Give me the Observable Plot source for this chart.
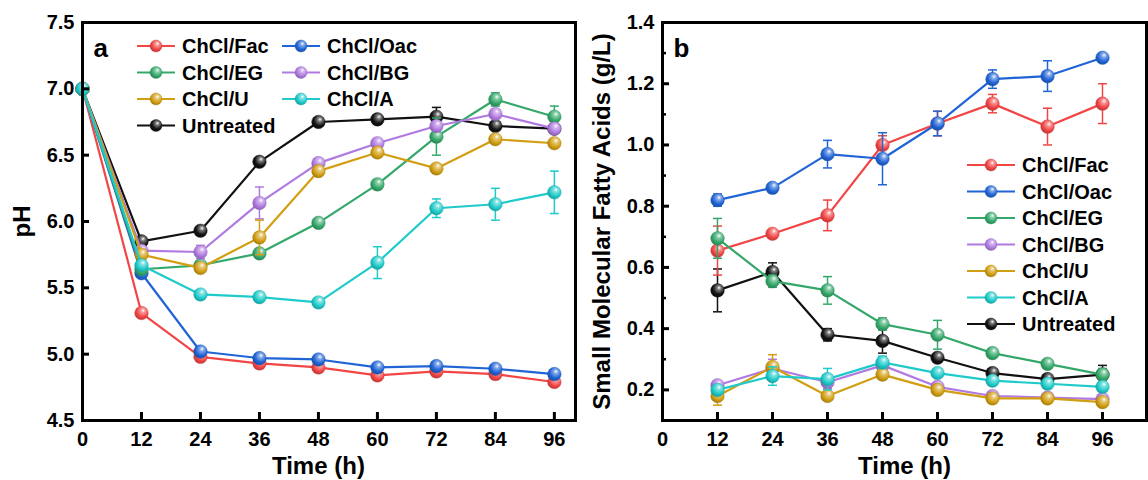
<!DOCTYPE html>
<html><head><meta charset="utf-8">
<script src="https://cdn.jsdelivr.net/npm/d3@7"></script>
<script src="https://cdn.jsdelivr.net/npm/@observablehq/plot@0.6"></script>
<style>
body{margin:0;background:#fff;font-family:"Liberation Sans",Arial,sans-serif}
#wrap{position:relative;width:1148px;height:480px;overflow:hidden}
#a,#b{position:absolute;top:0}
#a{left:0}#b{left:580px}
</style></head><body>
<div id="wrap"><div id="a"></div><div id="b"></div></div>
<script>
// ---------- data ----------
const seriesNames = ["ChCl/Fac","ChCl/Oac","ChCl/EG","ChCl/BG","ChCl/U","ChCl/A","Untreated"];
const seriesColors = ["#f24545","#2064d6","#34a86a","#b07ae0","#d29e12","#1fcaca","#111111"];
const timesA = [0,12,24,36,48,60,72,84,96];
const timesB = [12,24,36,48,60,72,84,96];
const tickLabelsX = [0,12,24,36,48,60,72,84,96];
const ticksPH = [4.5,5.0,5.5,6.0,6.5,7.0,7.5];
const ticksSMFA = [0.2,0.4,0.6,0.8,1.0,1.2,1.4];
const minorSMFA = [0.3,0.5,0.7,0.9,1.1,1.3];

// panel a: pH
const pH_Fac = [7.00,5.31,4.98,4.93,4.90,4.84,4.87,4.85,4.79];
const pH_Oac = [7.00,5.61,5.02,4.97,4.96,4.90,4.91,4.89,4.85];
const pH_EG  = [7.00,5.64,5.67,5.76,5.99,6.28,6.64,6.92,6.79];
const pH_BG  = [7.00,5.78,5.77,6.14,6.44,6.59,6.72,6.81,6.70];
const pH_U   = [7.00,5.75,5.65,5.88,6.38,6.52,6.40,6.62,6.59];
const pH_A   = [7.00,5.67,5.45,5.43,5.39,5.69,6.10,6.13,6.22];
const pH_Un  = [7.00,5.85,5.93,6.45,6.75,6.77,6.79,6.72,6.70];
const pHerr_Fac = [0,0.03,0.02,0.02,0.02,0.02,0.02,0.02,0.02];
const pHerr_Oac = [0,0.02,0.02,0.02,0.02,0.02,0.02,0.02,0.02];
const pHerr_EG  = [0,0.02,0.02,0.02,0.02,0.02,0.14,0.05,0.08];
const pHerr_BG  = [0,0.02,0.05,0.12,0.02,0.02,0.02,0.03,0.02];
const pHerr_U   = [0,0.02,0.03,0.13,0.02,0.02,0.02,0.02,0.02];
const pHerr_A   = [0,0.02,0.02,0.02,0.03,0.12,0.07,0.12,0.16];
const pHerr_Un  = [0,0.02,0.02,0.02,0.02,0.02,0.07,0.03,0.02];

// panel b: small molecular fatty acids (g/L)
const fa_Fac = [0.655,0.71,0.77,1.00,1.07,1.135,1.06,1.135];
const fa_Oac = [0.82,0.86,0.97,0.955,1.07,1.215,1.225,1.285];
const fa_EG  = [0.695,0.555,0.525,0.415,0.38,0.32,0.285,0.25];
const fa_BG  = [0.215,0.27,0.225,0.28,0.21,0.18,0.175,0.17];
const fa_U   = [0.18,0.275,0.18,0.25,0.20,0.172,0.172,0.16];
const fa_A   = [0.20,0.245,0.235,0.29,0.255,0.23,0.22,0.21];
const fa_Un  = [0.525,0.585,0.38,0.36,0.305,0.255,0.235,0.25];
const faerr_Fac = [0.08,0.01,0.05,0.03,0.04,0.03,0.06,0.065];
const faerr_Oac = [0.02,0.01,0.045,0.085,0.04,0.03,0.05,0.01];
const faerr_EG  = [0.065,0.02,0.045,0.02,0.047,0.01,0.01,0.02];
const faerr_BG  = [0.01,0.03,0.02,0.02,0.01,0.01,0.01,0.01];
const faerr_U   = [0.03,0.04,0.01,0.01,0.01,0.01,0.01,0.01];
const faerr_A   = [0.01,0.03,0.035,0.02,0.01,0.01,0.01,0.01];
const faerr_Un  = [0.07,0.03,0.02,0.04,0.01,0.01,0.01,0.03];

const pHVals = [pH_Fac,pH_Oac,pH_EG,pH_BG,pH_U,pH_A,pH_Un];
const pHErrs = [pHerr_Fac,pHerr_Oac,pHerr_EG,pHerr_BG,pHerr_U,pHerr_A,pHerr_Un];
const faVals = [fa_Fac,fa_Oac,fa_EG,fa_BG,fa_U,fa_A,fa_Un];
const faErrs = [faerr_Fac,faerr_Oac,faerr_EG,faerr_BG,faerr_U,faerr_A,faerr_Un];

// ---------- helpers ----------
const FONT = "'Liberation Sans', Arial, sans-serif";
const drawOrder = [6,0,1,2,3,4,5];
const capSymbol = {draw(ctx, size){ const r = Math.sqrt(size/Math.PI); ctx.moveTo(-r,0); ctx.lineTo(r,0); }};

function rowsFor(times, vals, errs, i){
  return times.map((t,j)=>({t, v: vals[i][j], e: errs[i][j]}));
}

function addDefs(svg, prefix){
  const defs = d3.select(svg).insert("defs", ":first-child");
  seriesColors.forEach((c,i)=>{
    const g = defs.append("radialGradient").attr("id", prefix+i)
      .attr("cx","0.58").attr("cy","0.38").attr("r","0.7").attr("fx","0.62").attr("fy","0.3");
    g.append("stop").attr("offset","0%").attr("stop-color","#ffffff");
    g.append("stop").attr("offset","22%").attr("stop-color", d3.interpolateRgb(c,"#ffffff")(0.45));
    g.append("stop").attr("offset","62%").attr("stop-color", c);
    g.append("stop").attr("offset","100%").attr("stop-color", d3.color(c).darker(0.9).formatHex());
  });
}

function panel(cfg){
  const {width, height, marginLeft, marginRight, marginTop, marginBottom, xDomain, yDomain,
         times, vals, errs, yTicks, yMinor, yFormat, ylabel, letter, prefix, xLabelX} = cfg;
  const plotW = width - marginLeft - marginRight;
  const plotH = height - marginTop - marginBottom;
  const marks = [];
  for (const i of drawOrder){
    const rows = rowsFor(times, vals, errs, i);
    const c = seriesColors[i];
    marks.push(Plot.line(rows, {x:"t", y:"v", stroke:c, strokeWidth:2.2}));
    marks.push(Plot.ruleX(rows, {x:"t", y1:d=>d.v-d.e, y2:d=>d.v+d.e, stroke:c, strokeWidth:1.5}));
    marks.push(Plot.dot(rows, {x:"t", y:d=>d.v-d.e, symbol:capSymbol, r:4.5, stroke:c, strokeWidth:1.5, fill:"none"}));
    marks.push(Plot.dot(rows, {x:"t", y:d=>d.v+d.e, symbol:capSymbol, r:4.5, stroke:c, strokeWidth:1.5, fill:"none"}));
    marks.push(Plot.dot(rows, {x:"t", y:"v", r:6.8, fill:`url(#${prefix}${i})`, stroke:d3.color(c).darker(0.6).formatHex(), strokeWidth:0.4}));
  }
  marks.push(Plot.frame({stroke:"#000", strokeWidth:3}));
  // inward ticks
  marks.push(Plot.ruleX(tickLabelsX.filter(d=>d>0), {x:d=>d, insetTop: plotH-8, stroke:"#000", strokeWidth:3}));
  marks.push(Plot.ruleY(yTicks, {y:d=>d, insetRight: plotW-7, stroke:"#000", strokeWidth:3}));
  if (yMinor) marks.push(Plot.ruleY(yMinor, {y:d=>d, insetRight: plotW-4, stroke:"#000", strokeWidth:2.5}));
  marks.push(Plot.axisX({ticks: tickLabelsX, tickSize:0, tickPadding:11, tickFormat:d3.format("d"), fontSize:20, fontWeight:"bold", label:null}));
  marks.push(Plot.axisY({ticks: yTicks, tickSize:0, tickPadding:8, tickFormat:yFormat, fontSize:20, fontWeight:"bold", label:null}));
  marks.push(Plot.text([ylabel], {frameAnchor:"left", text:d=>d, rotate:-90, dx:-60, lineAnchor:"middle", textAnchor:"middle", fontSize:24, fontWeight:"bold"}));
  marks.push(Plot.text(["Time (h)"], xLabelX != null
     ? {x:()=>xLabelX, frameAnchor:"bottom", text:d=>d, dy:46, lineAnchor:"middle", fontSize:24, fontWeight:"bold"}
     : {frameAnchor:"bottom", text:d=>d, dy:46, lineAnchor:"middle", fontSize:24, fontWeight:"bold"}));
  marks.push(Plot.text([letter], {frameAnchor:"top-left", text:d=>d, dx:11, dy:26, lineAnchor:"middle", textAnchor:"start", fontSize:26, fontWeight:"bold"}));
  const svg = Plot.plot({
    width, height, marginLeft, marginRight, marginTop, marginBottom,
    style:{fontFamily:FONT, color:"#000", background:"transparent", overflow:"visible"},
    x:{domain:xDomain},
    y:{domain:yDomain},
    marks
  });
  addDefs(svg, prefix);
  return svg;
}

function legend(svg, items, prefix, fontSize){
  const g = d3.select(svg).append("g").attr("font-family", FONT).attr("font-weight","bold")
    .attr("font-size", fontSize).attr("text-anchor","start");
  for (const it of items){
    const c = seriesColors[it.i];
    g.append("line").attr("x1", it.x).attr("x2", it.x + it.len).attr("y1", it.y).attr("y2", it.y).attr("stroke", c).attr("stroke-width", 2.2);
    g.append("circle").attr("cx", it.x + it.len/2).attr("cy", it.y).attr("r", 6).attr("fill", `url(#${prefix}${it.i})`)
      .attr("stroke", d3.color(c).darker(0.6).formatHex()).attr("stroke-width", 0.4);
    g.append("text").attr("x", it.x + it.len + 7).attr("y", it.y).attr("dy","0.36em")
      .attr("text-anchor","start").attr("fill","#000").text(seriesNames[it.i]);
  }
}

// ---------- panel a ----------
const svgA = panel({width:580, height:480, marginLeft:82, marginRight:5, marginTop:22, marginBottom:60,
  xDomain:[0,100.3], yDomain:[4.5,7.5], times:timesA, vals:pHVals, errs:pHErrs,
  yTicks:ticksPH, yMinor:null, yFormat:d3.format(".1f"), ylabel:"pH", letter:"a", prefix:"ga", xLabelX:48});
document.getElementById("a").appendChild(svgA);
const legA = [];
[[0,1],[2,3],[4,5],[6]].forEach((row,r)=>{
  row.forEach((i,cI)=>legA.push({i, x: cI===0?137:282, y: 46 + r*26.5, len: 38}));
});
legend(svgA, legA, "ga", 20);

// ---------- panel b ----------
const svgB = panel({width:568, height:480, marginLeft:82, marginRight:2, marginTop:22, marginBottom:60,
  xDomain:[0,105.6], yDomain:[0.1,1.4], times:timesB, vals:faVals, errs:faErrs,
  yTicks:ticksSMFA, yMinor:minorSMFA, yFormat:d3.format(".1f"), ylabel:"Small Molecular Fatty Acids (g/L)", letter:"b", prefix:"gb", xLabelX:null});
document.getElementById("b").appendChild(svgB);
legend(svgB, seriesNames.map((n,i)=>({i, x:387, y:165 + i*26.5, len:48})), "gb", 20);
</script>
</body></html>
